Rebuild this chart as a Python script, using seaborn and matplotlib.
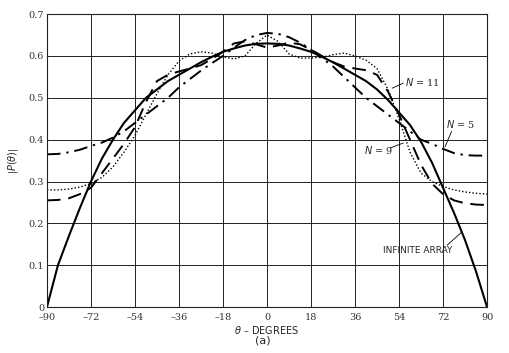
import numpy as np
import pandas as pd
import seaborn as sns
import matplotlib.pyplot as plt

# theta in degrees, 4.5 deg steps
theta = [-90, -85.5, -81, -76.5, -72, -67.5, -63, -58.5, -54, -49.5, -45,
         -40.5, -36, -31.5, -27, -22.5, -18, -13.5, -9, -4.5, 0,
         4.5, 9, 13.5, 18, 22.5, 27, 31.5, 36, 40.5, 45,
         49.5, 54, 58.5, 63, 67.5, 72, 76.5, 81, 85.5, 90]

infinite = [0.0, 0.10, 0.17, 0.237, 0.30, 0.355, 0.40, 0.44, 0.47, 0.50, 0.52,
            0.54, 0.555, 0.57, 0.585, 0.598, 0.61, 0.618, 0.625, 0.629, 0.63,
            0.629, 0.625, 0.618, 0.61, 0.598, 0.585, 0.57, 0.555, 0.54, 0.52,
            0.495, 0.465, 0.435, 0.395, 0.345, 0.285, 0.225, 0.16, 0.085, 0.0]

n5 = [0.365, 0.366, 0.37, 0.376, 0.385, 0.393, 0.405, 0.42, 0.44, 0.46, 0.48,
      0.50, 0.525, 0.545, 0.565, 0.583, 0.60, 0.62, 0.638, 0.65, 0.655,
      0.653, 0.645, 0.632, 0.615, 0.595, 0.575, 0.55, 0.525, 0.50, 0.48,
      0.46, 0.44, 0.42, 0.40, 0.39, 0.378, 0.368, 0.363, 0.362, 0.362]

n9 = [0.28, 0.28, 0.282, 0.287, 0.295, 0.31, 0.335, 0.37, 0.41, 0.46, 0.51,
      0.555, 0.588, 0.605, 0.61, 0.607, 0.598, 0.593, 0.60, 0.63, 0.65,
      0.635, 0.605, 0.595, 0.595, 0.597, 0.603, 0.607, 0.60, 0.59, 0.57,
      0.52, 0.45, 0.37, 0.32, 0.30, 0.288, 0.28, 0.275, 0.272, 0.27]

n11 = [0.255, 0.256, 0.26, 0.27, 0.285, 0.32, 0.355, 0.39, 0.43, 0.49, 0.54,
       0.555, 0.563, 0.57, 0.578, 0.593, 0.61, 0.63, 0.635, 0.628, 0.62,
       0.625, 0.632, 0.628, 0.615, 0.60, 0.585, 0.575, 0.57, 0.566, 0.555,
       0.515, 0.46, 0.40, 0.34, 0.295, 0.27, 0.255, 0.248, 0.245, 0.244]

xticks = [-90, -72, -54, -36, -18, 0, 18, 36, 54, 72, 90]
yticks = [0, 0.1, 0.2, 0.3, 0.4, 0.5, 0.6, 0.7]
ytick_labels = ["0", "0.1", "0.2", "0.3", "0.4", "0.5", "0.6", "0.7"]

sns.set_style("white")
plt.rcParams['font.family'] = ['DejaVu Serif']

fig = plt.figure(figsize=(5.1, 3.53), dpi=100)
ax = fig.add_axes([0.092, 0.130, 0.863, 0.830])

sns.lineplot(x=theta, y=infinite, color="black", linewidth=1.5, ax=ax)
sns.lineplot(x=theta, y=n5, color="black", linewidth=1.4, linestyle=(0, (7, 3, 1.2, 3)), ax=ax)
sns.lineplot(x=theta, y=n9, color="black", linewidth=1.0, linestyle=(0, (1, 1.5)), ax=ax)
sns.lineplot(x=theta, y=n11, color="black", linewidth=1.4, linestyle=(0, (7, 4)), ax=ax)

ax.set_xlim(-90, 90)
ax.set_ylim(0, 0.7)
ax.set_xticks(xticks)
ax.set_xticklabels([str(t).replace("-", "\u2013") for t in xticks], fontsize=7, color="#333333")
ax.set_yticks(yticks)
ax.set_yticklabels(ytick_labels, fontsize=7, color="#333333")
ax.tick_params(axis="y", length=0, pad=2)
ax.tick_params(axis="x", length=0, pad=4)
ax.grid(True, color="#222222", linewidth=0.7)
for s in ax.spines.values():
    s.set_color("#222222")
    s.set_linewidth(0.8)

ax.set_xlabel("$\\theta$ \u2013 DEGREES", fontsize=7, family="DejaVu Sans", labelpad=2)
ax.set_ylabel("|$P(\\theta)$|", fontsize=7, labelpad=6)
fig.text(0.515, 0.028, "(a)", fontsize=8, family="DejaVu Sans", ha="center")

# labels with leader lines
ax.text(56.5, 0.537, "$N$ = 11", fontsize=7, va="center")
ax.plot([55.7, 51.2], [0.535, 0.523], color="black", linewidth=0.6)
ax.text(79, 0.437, "$N$ = 5", fontsize=7, va="center", ha="center")
ax.plot([75.5, 72.8], [0.42, 0.383], color="black", linewidth=0.6)
ax.text(45.5, 0.375, "$N$ = 9", fontsize=7, va="center", ha="center")
ax.plot([50.3, 55.7], [0.38, 0.392], color="black", linewidth=0.6)
ax.text(61.5, 0.136, "INFINITE ARRAY", fontsize=6.5, family="DejaVu Sans", va="center", ha="center")
ax.plot([73.7, 79.8], [0.148, 0.18], color="black", linewidth=0.6)

fig.savefig("out.png", dpi=100)
